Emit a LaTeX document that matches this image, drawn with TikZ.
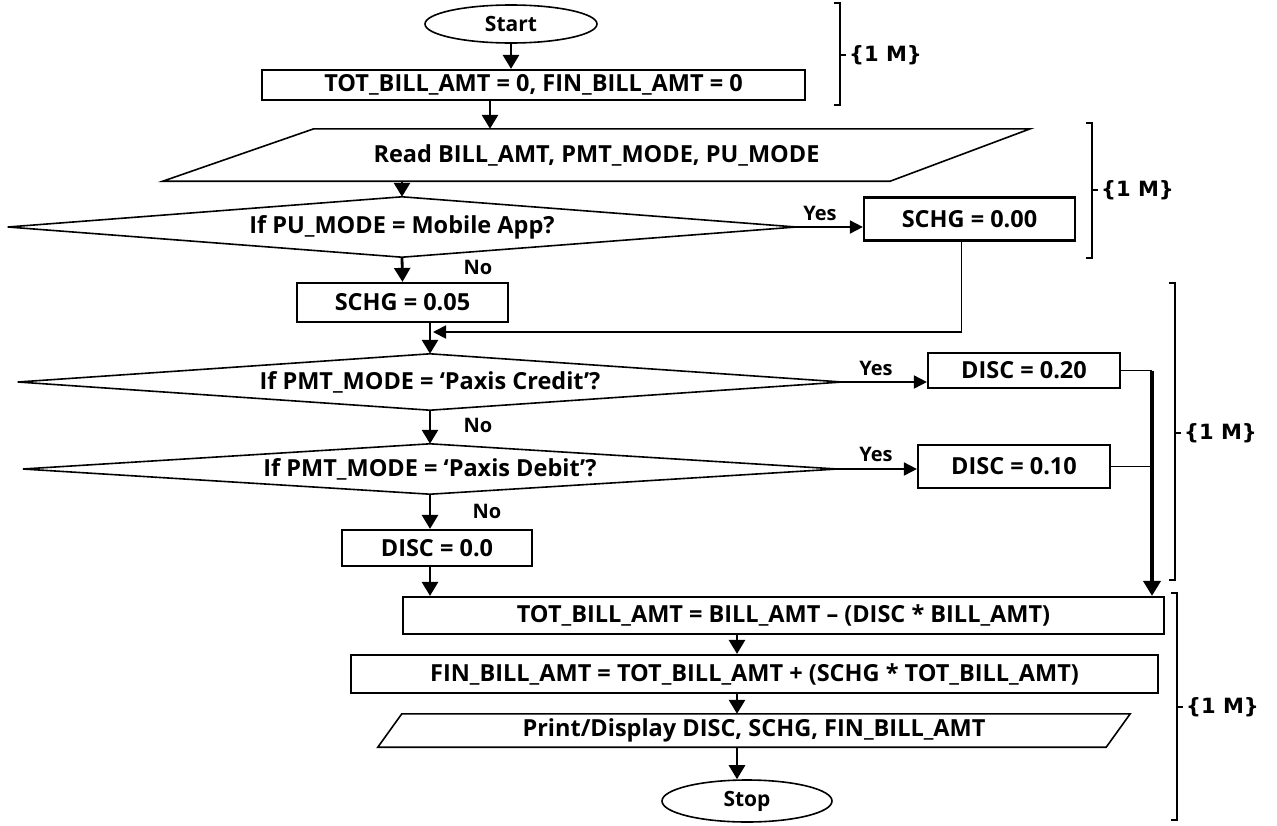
\documentclass[tikz,border=0pt]{standalone}
\usepackage{fontspec}
\setmainfont{Open Sans}
\newfontfamily\brfont{DejaVu Sans}
\usetikzlibrary{arrows.meta,shapes.geometric,calc}
\begin{document}
\begin{tikzpicture}[x=1pt,y=-1pt,
  every node/.style={font=\bfseries\fontsize{23.5}{25}\selectfont, inner sep=0pt},
  proc/.style={draw, line width=2.2pt, fill=white, rectangle},
  term/.style={draw, line width=1.6pt, ellipse, fill=white, font=\bfseries\fontsize{21}{23}\selectfont},
  conn/.style={line width=1.6pt},
  arr/.style={line width=2.8pt, -{Triangle[length=14pt,width=16pt]}},
  arrthin/.style={line width=1.8pt, -{Triangle[length=13pt,width=13pt]}},
  arrbig/.style={line width=3.8pt, -{Triangle[length=15pt,width=17pt]}},
  lbl/.style={font=\bfseries\fontsize{20}{22}\selectfont},
  brk/.style={line width=1.4pt},
  mk/.style={font=\brfont\bfseries\fontsize{21}{23}\selectfont, anchor=west}
]
\useasboundingbox (0,0) rectangle (1277,825);
% helper x positions
\coordinate (x490) at (490,0);
\coordinate (x430) at (430,0);
\coordinate (x737) at (737,0);
\coordinate (x1152) at (1152,0);

% nodes
\node[term, minimum width=172, minimum height=38] (start) at (511,24) {Start};
\node[proc, minimum width=543, minimum height=30] (b1) at (533.5,85) {TOT\_BILL\_AMT = 0, FIN\_BILL\_AMT = 0};
\node[minimum width=867, minimum height=52] (rd) at (596.5,155) {Read BILL\_AMT, PMT\_MODE, PU\_MODE};
\draw[conn] (rd.south west) -- ($(rd.north west)+(151,0)$) -- (rd.north east) -- ($(rd.south east)+(-140,0)$) -- cycle;

\node[minimum width=788, minimum height=60] (d1) at (402,227) {If PU\_MODE = Mobile App?};
\draw[conn] (d1.west) -- (d1.north) -- (d1.east) -- (d1.south) -- cycle;
\node[proc, minimum width=211, minimum height=43] (s0) at (969.5,219) {SCHG = 0.00};
\node[proc, minimum width=211, minimum height=39] (s5) at (402.5,302.5) {SCHG = 0.05};

\node[minimum width=824, minimum height=56] (d2) at (430,382) {If PMT\_MODE = ‘Paxis Credit’?};
\draw[conn] (d2.west) -- (d2.north) -- (d2.east) -- (d2.south) -- cycle;
\node[proc, minimum width=192, minimum height=35] (c20) at (1024,370.5) {DISC = 0.20};

\node[minimum width=814, minimum height=50] (d3) at (430,469) {If PMT\_MODE = ‘Paxis Debit’?};
\draw[conn] (d3.west) -- (d3.north) -- (d3.east) -- (d3.south) -- cycle;
\node[proc, minimum width=192, minimum height=43] (c10) at (1014,466.5) {DISC = 0.10};

\node[proc, minimum width=190, minimum height=36] (c0) at (437,548) {DISC = 0.0};
\node[proc, minimum width=761, minimum height=37] (tot) at (783.5,615.5) {TOT\_BILL\_AMT = BILL\_AMT – (DISC * BILL\_AMT)};
\node[proc, minimum width=807, minimum height=38] (fin) at (754.5,674) {FIN\_BILL\_AMT = TOT\_BILL\_AMT + (SCHG * TOT\_BILL\_AMT)};
\node[minimum width=752, minimum height=33] (pr) at (754,730.5) {Print/Display DISC, SCHG, FIN\_BILL\_AMT};
\draw[conn] (pr.south west) -- ($(pr.north west)+(24,0)$) -- (pr.north east) -- ($(pr.south east)+(-24,0)$) -- cycle;
\node[term, minimum width=170, minimum height=42] (stop) at (747,801) {Stop};

% connectors
\draw[arr] (start.south) -- (start.south |- b1.north);
\draw[arr] (b1.south -| x490) -- (rd.north -| x490);
\draw[arr] (rd.south -| d1.north) -- (d1.north);
\draw[arrthin] (d1.east) -- (d1.east -| s0.west);
\node[lbl] (y1) at (820,213) {Yes};
\draw[arr] (d1.south) -- (s5.north);
\node[lbl] (n1) at (478,267) {No};
\draw[arr] (s5.south -| x430) -- (d2.north);
\coordinate (mg) at (433,332);
\draw[arrthin] ($(s0.south)+(-8,0)$) |- (mg);
\draw[arr] (d2.south) -- (d3.north);
\node[lbl] (n2) at (478,425) {No};
\draw[arrthin] (d2.east) -- (d2.east -| c20.west);
\node[lbl] (y2) at (876,368) {Yes};
\draw[arrthin] (d3.east) -- (d3.east -| c10.west);
\node[lbl] (y3) at (876,454) {Yes};
\draw[arr] (d3.south) -- (d3.south |- c0.north);
\node[lbl] (n3) at (487,511) {No};
\draw[arr] (c0.south -| x430) -- (tot.north -| x430);
\draw[conn] (c20.east) -- (c20.east -| x1152);
\draw[conn] (c10.east) -- (c10.east -| x1152);
\draw[arrbig] (c20.east -| x1152) -- (tot.north -| x1152);
\draw[arr] (tot.south -| x737) -- (fin.north -| x737);
\draw[arr] (fin.south -| x737) -- (pr.north -| x737);
\draw[arr] (pr.south -| x737) -- (stop.north -| x737);

% brackets
\draw[brk] (834,3) -- (840,3) -- (840,105) -- (834,105);
\draw[brk] (840,55) -- (846,55);
\node[mk] (m1) at (849,55) {\{1 M\}};
\draw[brk] (1086,123) -- (1092,123) -- (1092,258) -- (1086,258);
\draw[brk] (1092,190) -- (1098,190);
\node[mk] (m2) at (1101,190) {\{1 M\}};
\draw[brk] (1169,283) -- (1175,283) -- (1175,580) -- (1169,580);
\draw[brk] (1175,433) -- (1181,433);
\node[mk] (m3) at (1184,433) {\{1 M\}};
\draw[brk] (1171,593) -- (1177,593) -- (1177,820) -- (1171,820);
\draw[brk] (1177,707) -- (1183,707);
\node[mk] (m4) at (1186,707) {\{1 M\}};
\end{tikzpicture}
\end{document}
